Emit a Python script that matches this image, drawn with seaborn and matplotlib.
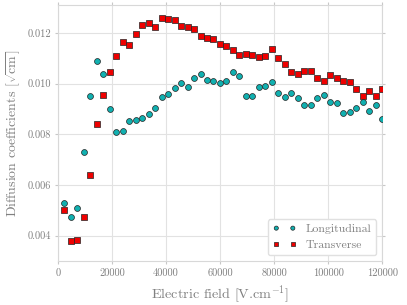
import numpy as np
import pandas as pd
import matplotlib
matplotlib.use("Agg")
import matplotlib.pyplot as plt
import seaborn as sns

# electric field values (V/cm), one point every 2400
field = [2400 * k for k in range(1, 51)]

longitudinal = [
    0.00529, 0.00475, 0.00510, 0.00729, 0.00950, 0.01087, 0.01039, 0.00901,
    0.00808, 0.00812, 0.00853, 0.00858, 0.00864, 0.00879, 0.00905, 0.00947,
    0.00960, 0.00982, 0.01002, 0.00985, 0.01021, 0.01038, 0.01013, 0.01011,
    0.01002, 0.01010, 0.01045, 0.01030, 0.00952, 0.00950, 0.00988, 0.00989,
    0.01006, 0.00963, 0.00946, 0.00964, 0.00942, 0.00916, 0.00914, 0.00942,
    0.00954, 0.00927, 0.00923, 0.00883, 0.00887, 0.00904, 0.00929, 0.00893,
    0.00914, 0.00859,
]

transverse = [
    0.00500, 0.00379, 0.00383, 0.00474, 0.00640, 0.00842, 0.00956, 0.01045,
    0.01107, 0.01162, 0.01150, 0.01196, 0.01229, 0.01239, 0.01223, 0.01260,
    0.01254, 0.01251, 0.01226, 0.01222, 0.01215, 0.01187, 0.01178, 0.01174,
    0.01157, 0.01149, 0.01133, 0.01114, 0.01115, 0.01111, 0.01103, 0.01108,
    0.01136, 0.01102, 0.01076, 0.01044, 0.01039, 0.01048, 0.01048, 0.01021,
    0.01009, 0.01032, 0.01022, 0.01009, 0.01006, 0.00977, 0.00951, 0.00971,
    0.00951, 0.00977,
]

sns.set_style("whitegrid")
plt.rcParams.update({
    "font.family": "serif",
    "font.serif": ["cmr10"],
    "mathtext.fontset": "cm",
    "axes.formatter.use_mathtext": True,
    "text.color": "#808080",
    "axes.labelcolor": "#808080",
    "xtick.color": "#c8c8c8",
    "ytick.color": "#c8c8c8",
    "xtick.labelcolor": "#808080",
    "ytick.labelcolor": "#808080",
    "axes.edgecolor": "#d8d8d8",
    "grid.color": "#e2e2e2",
})

df = pd.DataFrame({"field": field, "long": longitudinal, "trans": transverse})

fig = plt.figure(figsize=(4.07, 3.05), dpi=100)
ax = fig.add_axes([0.142, 0.144, 0.797, 0.84])

sns.scatterplot(data=df, x="field", y="long", marker="o", color="#11b0b0",
                edgecolor="#222222", linewidth=0.5, s=18, label="Longitudinal",
                legend=False, ax=ax, zorder=3)
sns.scatterplot(data=df, x="field", y="trans", marker="s", color="#ee0000",
                edgecolor="#222222", linewidth=0.5, s=18, label="Transverse",
                legend=False, ax=ax, zorder=3)

ax.set_xlim(0, 120000)
ax.set_ylim(0.003, 0.0131)
ax.set_xticks([0, 20000, 40000, 60000, 80000, 100000, 120000])
ax.set_yticks([0.004, 0.006, 0.008, 0.010, 0.012])
ax.set_xticklabels([str(v) for v in ax.get_xticks().astype(int)])
ax.set_yticklabels([f"{v:.3f}" for v in ax.get_yticks()])
ax.tick_params(axis="both", which="major", labelsize=7.5, length=2.5,
               width=0.8, direction="out", top=True, right=True,
               bottom=True, left=True, pad=2.5)

ax.set_xlabel(r"Electric field [V.cm$^{-1}$]", fontsize=10.2, labelpad=4)
ax.set_ylabel(r"Diffusion coefficients [$\sqrt{\mathrm{cm}}$]", fontsize=10,
              labelpad=4)

ax.legend(loc="lower right", scatterpoints=2, scatteryoffsets=[0.5],
          markerscale=0.7, fontsize=8.5, frameon=True, framealpha=1,
          edgecolor="#e0e0e0")

plt.savefig("out.png", dpi=100)
plt.close()
